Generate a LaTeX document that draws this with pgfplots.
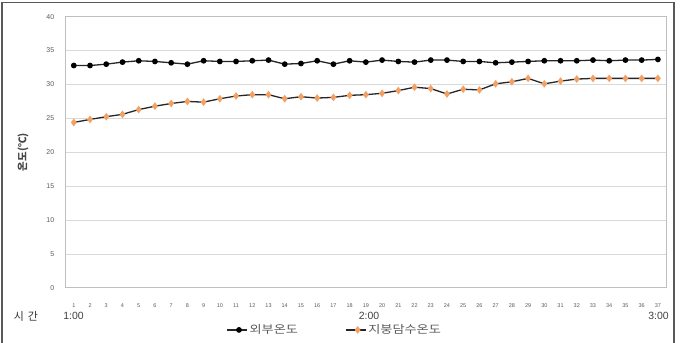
\documentclass[border=0pt]{standalone}
\usepackage{pgfplots}
\pgfplotsset{compat=1.18}
\usepackage{fontspec}
\setmainfont{Liberation Sans}
\newfontfamily\kr{Noto Sans CJK KR}
\newfontfamily\krw{Noto Sans CJK KR}[FakeStretch=1.2]
\definecolor{tickgray}{HTML}{595959}
\definecolor{gridgray}{HTML}{D9D9D9}
\definecolor{framegray}{HTML}{BFBFBF}
\definecolor{orangem}{HTML}{F2A064}
\definecolor{linedark}{HTML}{262626}
\begin{document}
\begin{tikzpicture}
\useasboundingbox (0bp,0bp) rectangle (683bp,343bp);
\draw[line width=1.5bp, color=black!65] (2bp,-2bp) -- (2bp,340.5bp) -- (674bp,340.5bp) -- (674bp,-2bp);
\begin{axis}[
  at={(65.7bp,55.1bp)}, anchor=south west,
  scale only axis, width=600.3bp, height=271.2bp,
  xmin=0.5, xmax=37.5, ymin=0, ymax=40,
  ytick={0,5,...,40}, xtick={1,...,37},
  ymajorgrids, grid style={gridgray, line width=0.9bp},
  axis line style={framegray, line width=0.9bp},
  tick style={draw=none},
  /pgf/number format/assume math mode=true,
  yticklabel style={font=\fontsize{7}{8}\selectfont, color=tickgray, xshift=-8bp},
  xticklabel style={font=\fontsize{5.5}{6}\selectfont, color=tickgray, yshift=-12bp},
  legend columns=2,
  legend style={draw=none, fill=none, at={(0.448,-0.155)}, anchor=center,
    font=\krw\fontsize{11}{12}\selectfont, text=tickgray,
    /tikz/every even column/.append style={column sep=45bp},
    inner sep=0pt},
  legend image code/.code={
    \draw[#1, mark=none] (0bp,0bp) -- (20bp,0bp);
    \draw[#1, only marks] plot coordinates {(12bp,0bp)};
  },
]
\addplot[color=linedark, line width=1.3bp, mark=*, mark size=2.2bp, mark options={fill=black, draw=black}]
coordinates {
(1,32.8)(2,32.8)(3,33.0)(4,33.3)(5,33.5)(6,33.4)(7,33.2)(8,33.0)(9,33.5)(10,33.4)
(11,33.4)(12,33.5)(13,33.6)(14,33.0)(15,33.1)(16,33.5)(17,33.0)(18,33.5)(19,33.3)(20,33.6)
(21,33.4)(22,33.3)(23,33.6)(24,33.6)(25,33.4)(26,33.4)(27,33.2)(28,33.3)(29,33.4)(30,33.5)
(31,33.5)(32,33.5)(33,33.6)(34,33.5)(35,33.6)(36,33.6)(37,33.7)
};
\addlegendentry{외부온도}
\addplot[color=linedark, line width=1.3bp, mark=diamond*, mark size=2.8bp, mark options={fill=orangem, draw=orangem}]
coordinates {
(1,24.4)(2,24.85)(3,25.25)(4,25.6)(5,26.3)(6,26.8)(7,27.2)(8,27.5)(9,27.4)(10,27.9)
(11,28.3)(12,28.5)(13,28.5)(14,27.9)(15,28.2)(16,28.0)(17,28.1)(18,28.4)(19,28.5)(20,28.7)
(21,29.1)(22,29.6)(23,29.4)(24,28.6)(25,29.3)(26,29.2)(27,30.1)(28,30.4)(29,30.9)(30,30.1)
(31,30.5)(32,30.8)(33,30.9)(34,30.9)(35,30.9)(36,30.9)(37,30.9)
};
\addlegendentry{지붕담수온도}
\end{axis}
\node[rotate=90, font=\kr\bfseries\fontsize{10.5}{11}\selectfont, text=tickgray!80!black] at (23bp,191bp) {온도(℃)};
\node[font=\kr\fontsize{11}{12}\selectfont, text=black!80] at (26bp,27bp) {시\hspace{4bp}간};
\node[font=\fontsize{10.5}{12}\selectfont, text=black!75] at (73.5bp,27bp) {1:00};
\node[font=\fontsize{10.5}{12}\selectfont, text=black!75] at (369bp,27.5bp) {2:00};
\node[font=\fontsize{10.5}{12}\selectfont, text=black!75] at (658.5bp,27bp) {3:00};
\end{tikzpicture}
\end{document}
